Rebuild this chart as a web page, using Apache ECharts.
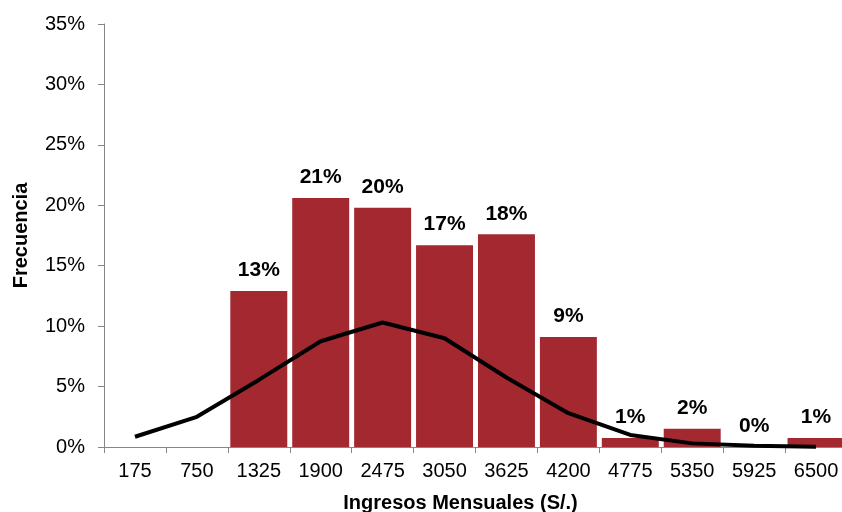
<!DOCTYPE html>
<html>
<head>
<meta charset="utf-8">
<script src="https://cdn.jsdelivr.net/npm/echarts@6/dist/echarts.min.js"></script>
<style>
  html, body { margin: 0; padding: 0; background: #fff; }
  #chart { width: 842px; height: 512px; }
</style>
</head>
<body>
<div id="chart"></div>
<script>
// Monthly income classes (S/.)
const categories = ['175', '750', '1325', '1900', '2475', '3050', '3625', '4200', '4775', '5350', '5925', '6500'];
// Observed relative frequency per class (%)
const frequency = [null, null, 12.9, 20.6, 19.8, 16.7, 17.6, 9.1, 0.74, 1.5, 0, 0.74];
// Fitted normal curve (%)
const normalCurve = [0.85, 2.5, 5.55, 8.75, 10.3, 9.0, 5.75, 2.8, 1.0, 0.3, 0.1, 0.03];
// Y axis range and step (%)
const yMin = 0, yMax = 35, yStep = 5;

const font = 'Liberation Sans, Arial, sans-serif';
const chart = echarts.init(document.getElementById('chart'), null, { renderer: 'canvas' });

chart.setOption({
  animation: false,
  backgroundColor: '#ffffff',
  grid: { left: 104, top: 24, width: 743, height: 423, containLabel: false, outerBoundsMode: 'none' },
  xAxis: {
    type: 'category',
    data: categories,
    boundaryGap: true,
    name: 'Ingresos Mensuales (S/.)',
    nameLocation: 'middle',
    nameGap: 46,
    nameTextStyle: { fontFamily: font, fontSize: 20, fontWeight: 'bold', color: '#000', padding: [0, 30, 0, 0] },
    axisLine: { lineStyle: { color: '#868686', width: 1 } },
    axisTick: { show: true, interval: 0, length: 6, lineStyle: { color: '#868686' } },
    axisLabel: { interval: 0, margin: 14, fontFamily: font, fontSize: 20, color: '#000' },
    splitLine: { show: false }
  },
  yAxis: {
    type: 'value',
    min: yMin,
    max: yMax,
    interval: yStep,
    name: 'Frecuencia',
    nameLocation: 'middle',
    nameGap: 73,
    nameRotate: 90,
    nameTextStyle: { fontFamily: font, fontSize: 20, fontWeight: 'bold', color: '#000' },
    axisLine: { show: true, lineStyle: { color: '#868686', width: 1 } },
    axisTick: { show: true, length: 6, lineStyle: { color: '#868686' } },
    axisLabel: { formatter: '{value}%', margin: 19, fontFamily: font, fontSize: 20, color: '#000' },
    splitLine: { show: false }
  },
  series: [
    {
      type: 'bar',
      data: frequency,
      barCategoryGap: '8%',
      itemStyle: { color: '#A3282F' },
      label: {
        show: true,
        position: 'top',
        distance: 10,
        fontFamily: font,
        fontSize: 21,
        fontWeight: 'bold',
        color: '#000',
        formatter: p => Math.round(p.value) + '%'
      },
      z: 2
    },
    {
      type: 'line',
      data: normalCurve,
      symbol: 'none',
      smooth: false,
      lineStyle: { color: '#000', width: 4 },
      z: 3
    }
  ]
});
</script>
</body>
</html>
